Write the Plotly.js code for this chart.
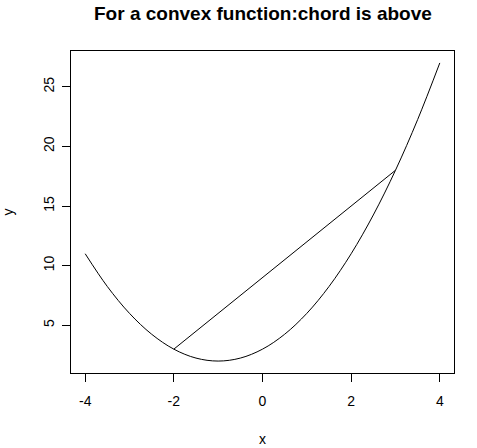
<!DOCTYPE html>
<html>
<head>
<meta charset="utf-8">
<script src="https://cdn.plot.ly/plotly-3.0.1.min.js"></script>
<style>html,body{margin:0;padding:0;background:#fff;}#chart{width:477px;height:448px;}</style>
</head>
<body>
<div id="chart"></div>
<script>
// Curve points
const curveX = [-4, -3.5, -3, -2.5, -2, -1.5, -1, -0.5, 0, 0.5, 1, 1.5, 2, 2.5, 3, 3.5, 4];
const curveY = [11, 8.25, 6, 4.25, 3, 2.25, 2, 2.25, 3, 4.25, 6, 8.25, 11, 14.25, 18, 22.25, 27];
// Chord endpoints
const chordX = [-2, 3];
const chordY = [3, 18];
const xTicks = [-4, -2, 0, 2, 4];
const yTicks = [5, 10, 15, 20, 25];
const titleText = 'For a convex function:chord is above';

const font = "Liberation Sans, Arial, sans-serif";

const traces = [
  {x: curveX, y: curveY, mode: 'lines', line: {color: 'black', width: 1, shape: 'spline'}, hoverinfo: 'skip'},
  {x: chordX, y: chordY, mode: 'lines', line: {color: 'black', width: 1}, hoverinfo: 'skip'}
];

const layout = {
  width: 477, height: 448,
  margin: {l: 71, r: 23, t: 51, b: 75},
  paper_bgcolor: 'white', plot_bgcolor: 'white',
  showlegend: false,
  font: {family: font, color: 'black', size: 14},
  annotations: [{
    text: '<b>' + titleText + '</b>', xref: 'paper', yref: 'paper', x: 0.5, y: 1.115,
    xanchor: 'center', yanchor: 'middle', showarrow: false,
    font: {family: font, size: 19, color: 'black'}
  }],
  xaxis: {
    range: [-4.32, 4.32], tickvals: xTicks, ticktext: xTicks.map(String),
    showgrid: false, zeroline: false, showline: true, mirror: true, linecolor: 'black', linewidth: 1,
    ticks: 'outside', ticklen: 8, tickcolor: 'black', tickwidth: 1, ticklabelstandoff: 7,
    tickfont: {family: font, size: 14, color: 'black'},
    title: {text: 'x', font: {family: font, size: 14, color: 'black'}, standoff: 26}
  },
  yaxis: {
    range: [1, 28], tickvals: yTicks, ticktext: yTicks.map(String),
    showgrid: false, zeroline: false, showline: true, mirror: true, linecolor: 'black', linewidth: 1,
    ticks: 'outside', ticklen: 8, tickcolor: 'black', tickwidth: 1, tickangle: -90, ticklabelstandoff: 2,
    tickfont: {family: font, size: 14, color: 'black'},
    title: {text: 'y', font: {family: font, size: 14, color: 'black'}, standoff: 25}
  }
};

Plotly.newPlot('chart', traces, layout, {displayModeBar: false, staticPlot: true});
</script>
</body>
</html>
